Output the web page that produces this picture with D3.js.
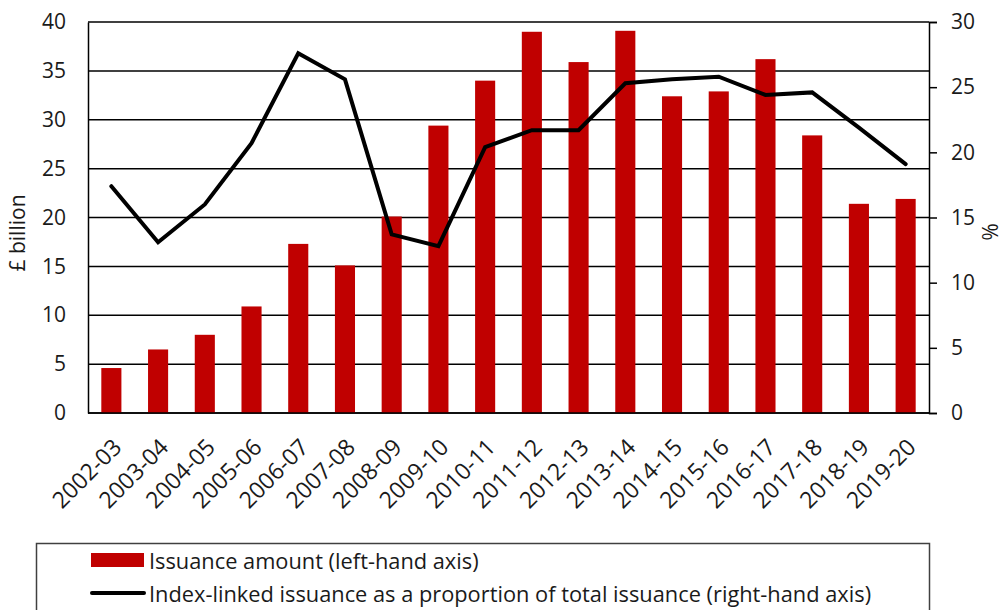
<!DOCTYPE html>
<html>
<head>
  <meta charset="UTF-8">
  <title>Index-linked gilt issuance</title>
  <script src="https://cdn.jsdelivr.net/npm/d3@7"></script>
</head>
<body style="margin:0;background:#fff">

<style>
  text {
    font-family: "Open Sans", sans-serif;
    fill: #1a1a1a;
  }
</style>

<script type="text/javascript">
  var years = ["2002-03", "2003-04", "2004-05", "2005-06", "2006-07", "2007-08", "2008-09", "2009-10", "2010-11",
    "2011-12", "2012-13", "2013-14", "2014-15", "2015-16", "2016-17", "2017-18", "2018-19", "2019-20"];
  // £ billion, left axis
  var issuance = [4.6, 6.5, 8.0, 10.9, 17.3, 15.1, 20.1, 29.4, 34.0, 39.0, 35.9, 39.1, 32.4, 32.9, 36.2, 28.4, 21.4, 21.9];
  // % of total issuance, right axis
  var share = [17.4, 13.1, 16.0, 20.7, 27.6, 25.6, 13.7, 12.8, 20.4, 21.7, 21.7, 25.3, 25.6, 25.8, 24.4, 24.6, 21.9, 19.1];
  var leftTicks = [0, 5, 10, 15, 20, 25, 30, 35, 40];
  var rightTicks = [0, 5, 10, 15, 20, 25, 30];
  var legendLabels = ["Issuance amount (left-hand axis)",
    "Index-linked issuance as a proportion of total issuance (right-hand axis)"];

  var width = 1003,
    height = 610,
    plotL = 88, plotR = 929, plotT = 22, plotB = 413;

  var svg = d3.select("body").append("svg")
    .attr("width", width)
    .attr("height", height);

  var x = d3.scaleBand().domain(years).range([plotL, plotR]).paddingInner(0.57).paddingOuter(0.285);
  var yL = d3.scaleLinear().domain([0, 40]).range([plotB, plotT]);
  var yR = d3.scaleLinear().domain([0, 30]).range([plotB, plotT]);

  // gridlines
  svg.append("g")
    .selectAll("line")
    .data(leftTicks)
    .enter().append("line")
    .attr("x1", plotL).attr("x2", plotR)
    .attr("y1", function (d) { return yL(d); })
    .attr("y2", function (d) { return yL(d); })
    .style("stroke", "#000")
    .style("stroke-width", 1.5);

  // bars
  svg.append("g")
    .selectAll("rect")
    .data(issuance)
    .enter().append("rect")
    .attr("x", function (d, i) { return x(years[i]); })
    .attr("width", x.bandwidth())
    .attr("y", function (d) { return yL(d); })
    .attr("height", function (d) { return plotB - yL(d); })
    .style("fill", "#c00000");

  // left axis
  var axL = svg.append("g")
    .attr("transform", "translate(" + plotL + ",0)")
    .call(d3.axisLeft(yL).tickValues(leftTicks).tickSize(0).tickPadding(22));
  axL.select(".domain").style("stroke", "#000").style("stroke-width", 1.5);
  axL.selectAll("text").style("font-size", "21px").style("font-family", "Open Sans, sans-serif").style("fill", "#1a1a1a");

  // right axis
  var axR = svg.append("g")
    .attr("transform", "translate(" + plotR + ",0)")
    .call(d3.axisRight(yR).tickValues(rightTicks).tickSize(8).tickPadding(14));
  axR.select(".domain").style("stroke", "#000").style("stroke-width", 1.5);
  axR.selectAll("line").style("stroke", "#000").style("stroke-width", 1.5);
  axR.selectAll("text").style("font-size", "21px").style("font-family", "Open Sans, sans-serif").style("fill", "#1a1a1a");

  // bottom baseline
  svg.append("line")
    .attr("x1", plotL).attr("x2", plotR)
    .attr("y1", plotB).attr("y2", plotB)
    .style("stroke", "#000").style("stroke-width", 1.5);

  // category labels
  svg.append("g")
    .selectAll("text")
    .data(years)
    .enter().append("text")
    .attr("transform", function (d) {
      return "translate(" + (x(d) + x.bandwidth() / 2 + 6) + "," + 443 + ") rotate(-45)";
    })
    .attr("text-anchor", "end")
    .attr("dy", "0.35em")
    .style("font-size", "23px")
    .text(function (d) { return d; });

  // line
  var line = d3.line()
    .x(function (d, i) { return x(years[i]) + x.bandwidth() / 2; })
    .y(function (d) { return yR(d); });

  svg.append("path")
    .datum(share)
    .attr("d", line)
    .style("fill", "none")
    .style("stroke", "#000")
    .style("stroke-width", 4)
    .style("stroke-linejoin", "miter")
    .style("stroke-linecap", "round");

  // axis titles
  svg.append("text")
    .attr("transform", "translate(18,233) rotate(-90)")
    .attr("text-anchor", "middle")
    .attr("dy", "0.35em")
    .style("font-size", "21px")
    .text("£ billion");

  svg.append("text")
    .attr("transform", "translate(989,232) rotate(90)")
    .attr("text-anchor", "middle")
    .attr("dy", "0.35em")
    .style("font-size", "21px")
    .text("%");

  // legend
  var lg = svg.append("g");
  lg.append("rect")
    .attr("x", 36.5).attr("y", 543.5)
    .attr("width", 893).attr("height", 100)
    .style("fill", "none")
    .style("stroke", "#404040")
    .style("stroke-width", 1.5);

  lg.append("rect")
    .attr("x", 91).attr("y", 553)
    .attr("width", 53).attr("height", 14)
    .style("fill", "#c00000");

  lg.append("line")
    .attr("x1", 92).attr("x2", 144)
    .attr("y1", 593).attr("y2", 593)
    .style("stroke", "#000")
    .style("stroke-width", 4)
    .style("stroke-linecap", "round");

  lg.selectAll("text.lab")
    .data(legendLabels)
    .enter().append("text")
    .attr("class", "lab")
    .attr("x", 149)
    .attr("y", function (d, i) { return 561 + i * 33; })
    .attr("dy", "0.35em")
    .style("font-size", "21.8px")
    .text(function (d) { return d; });
</script>
</body>
</html>
